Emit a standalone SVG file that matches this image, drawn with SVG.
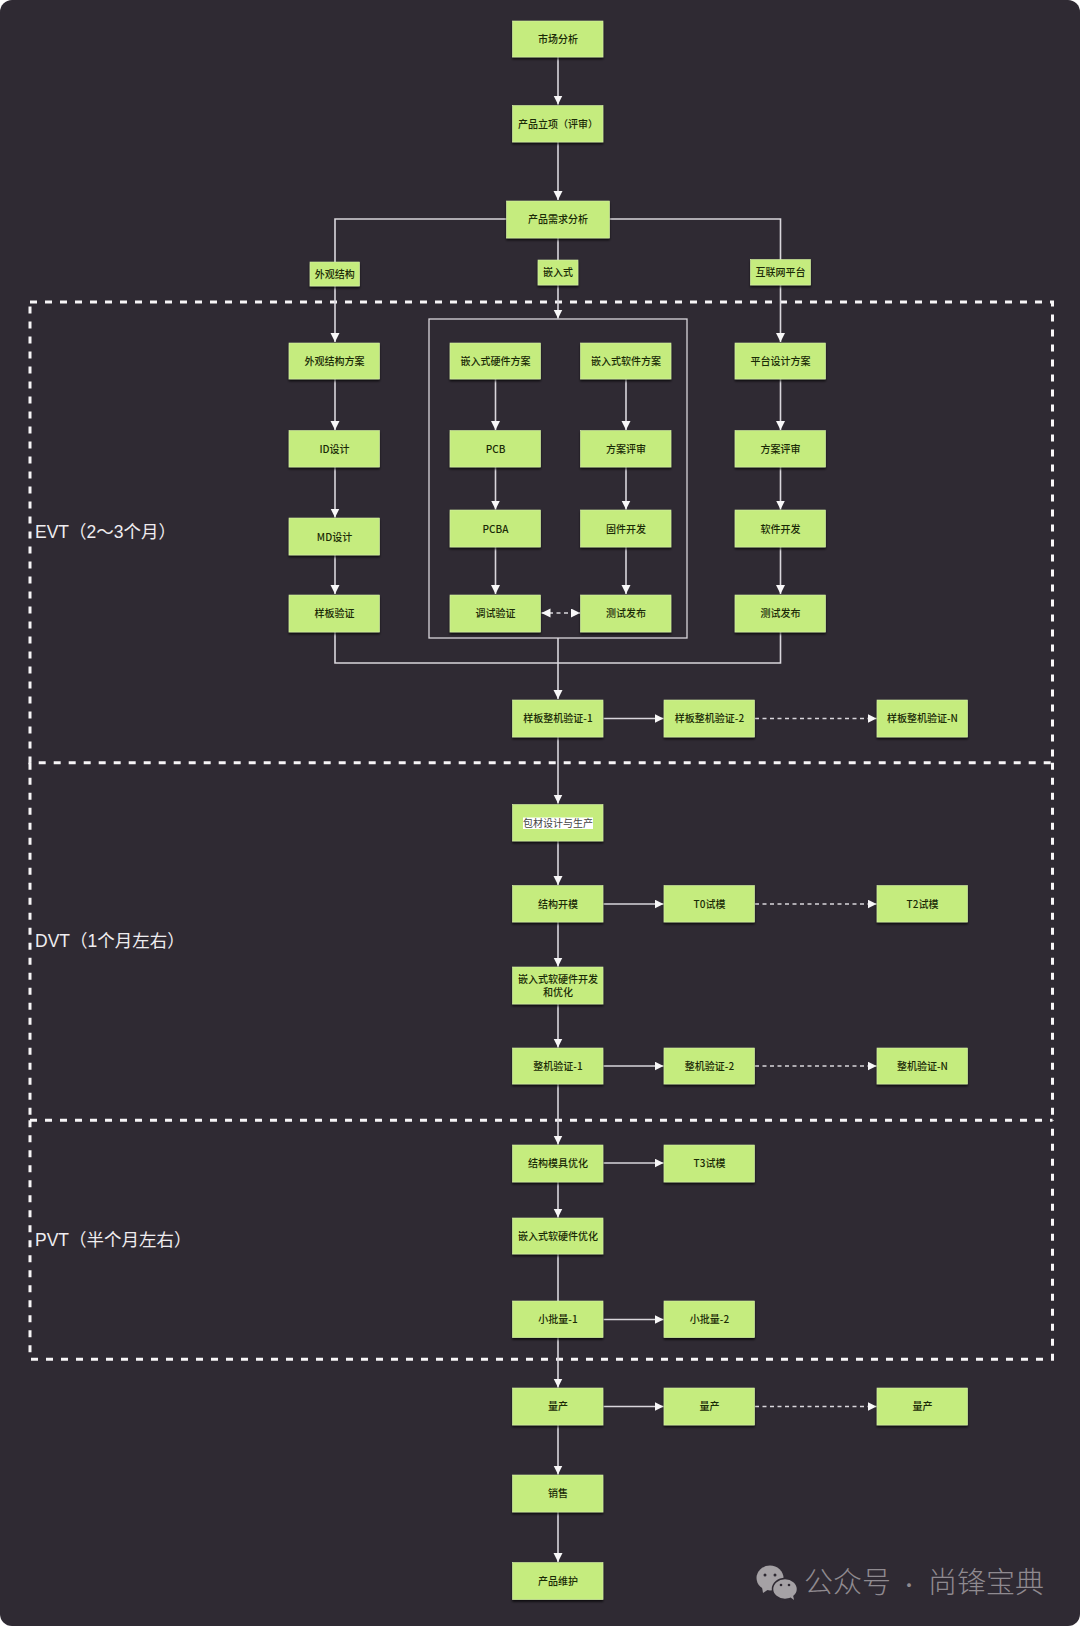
<svg xmlns="http://www.w3.org/2000/svg" width="1080" height="1626" viewBox="0 0 1080 1626">
<style>
.n rect{fill:#c5ec7e;stroke:#d8f2a8;stroke-width:.6;filter:url(#sh)}
.n text{font:500 10px "Noto Sans CJK SC","Liberation Sans",sans-serif;fill:#1a2a06;text-anchor:middle;dominant-baseline:central;transform:translateY(-.7px)}
.c path{fill:none;stroke:#d9d6dc;stroke-width:1.6}
.a{marker-end:url(#ah)}
.d{stroke-dasharray:4 3.5}
.b{fill:none;stroke:#f7f5f7;stroke-width:3;stroke-dasharray:7 8}
.p{font:17.5px "Liberation Sans","Noto Sans CJK SC",sans-serif;fill:#efedf0}
.w{font:300 29px "Noto Sans CJK SC",sans-serif;fill:#8f8a90}
</style>
<defs>
<filter id="sh" x="-10%" y="-10%" width="120%" height="130%"><feDropShadow dx="0" dy="2" stdDeviation="1.300" flood-color="#000" flood-opacity=".7"/></filter>
<marker id="ah" markerUnits="userSpaceOnUse" markerWidth="10" markerHeight="10" refX="9" refY="4.500" orient="auto-start-reverse"><path d="M0 0L9 4.500L0 9Z" fill="#f8f7f8"/></marker>
</defs>
<rect width="1080" height="1626" fill="#ffffff"/>
<rect width="1080" height="1626" rx="12" fill="#2f2a33"/>
<g id="phases">
<path class="b" d="M30 302H1052.500V762.700H30Z"/>
<path class="b" d="M30 762.700V1120.300M1052.500 762.700V1120.300M30 1120.300H1052.500"/>
<path class="b" d="M30 1120.300V1359.300H1052.500V1120.300"/>
<text class="p" x="35" y="538">EVT（2～3个月）</text>
<text class="p" x="35" y="947">DVT（1个月左右）</text>
<text class="p" x="35" y="1246">PVT（半个月左右）</text>
<rect x="429" y="319" width="258" height="319" fill="none" stroke="#d9d6dc" stroke-width="1.300"/>
</g>
<g id="connectors" class="c">
<path class="a" d="M558 57V104.500"/>
<path class="a" d="M558 142V200"/>
<path class="a" d="M506.500 219H335V342"/>
<path class="a" d="M558 238V318.500"/>
<path class="a" d="M609.500 219H780.500V342"/>
<path class="a" d="M335 379V430"/>
<path class="a" d="M335 467V517.500"/>
<path class="a" d="M335 555V594"/>
<path class="a" d="M495.500 379V430"/>
<path class="a" d="M495.500 467V509.500"/>
<path class="a" d="M495.500 547V594"/>
<path class="a" d="M626 379V430"/>
<path class="a" d="M626 467V509.500"/>
<path class="a" d="M626 547V594"/>
<path class="a" d="M780.500 379V430"/>
<path class="a" d="M780.500 467V509.500"/>
<path class="a" d="M780.500 547V594"/>
<path class="a d" marker-start="url(#ah)" d="M541.500 613H580"/>
<path d="M335 632V663H780.500V632"/>
<path class="a" d="M558 638V699"/>
<path class="a" d="M603.500 718.500H663.500"/>
<path class="a d" d="M755 718.500H876.500"/>
<path class="a" d="M558 737V803.500"/>
<path class="a" d="M558 841V885"/>
<path class="a" d="M603.500 904H663.500"/>
<path class="a d" d="M755 904H876.500"/>
<path class="a" d="M558 922V966.500"/>
<path class="a" d="M558 1004V1047.500"/>
<path class="a" d="M603.500 1066H663.500"/>
<path class="a d" d="M755 1066H876.500"/>
<path class="a" d="M558 1084V1144.500"/>
<path class="a" d="M603.500 1163H663.500"/>
<path class="a" d="M558 1182V1217.500"/>
<path d="M558 1254V1301"/>
<path class="a" d="M603.500 1319.500H663.500"/>
<path class="a" d="M558 1337V1387.500"/>
<path class="a" d="M603.500 1406.500H663.500"/>
<path class="a d" d="M755 1406.500H876.500"/>
<path class="a" d="M558 1425V1474.500"/>
<path class="a" d="M558 1512V1562"/>
</g>
<g id="n1" class="n"><rect x="512.500" y="21" width="90.500" height="36"/><text x="558" y="39">市场分析</text></g>
<g id="n2" class="n"><rect x="512.500" y="105.500" width="90.500" height="36.500"/><text x="558" y="124">产品立项（评审）</text></g>
<g id="n3" class="n"><rect x="506.500" y="201" width="103" height="37"/><text x="558" y="219">产品需求分析</text></g>
<g id="l1" class="n"><rect x="310" y="262" width="49.500" height="24"/><text x="334.700" y="274">外观结构</text></g>
<g id="l2" class="n"><rect x="538" y="260" width="40" height="25"/><text x="558" y="272.500">嵌入式</text></g>
<g id="l3" class="n"><rect x="750.500" y="259.500" width="60" height="25.500"/><text x="780.500" y="272.500">互联网平台</text></g>
<g id="n4" class="n"><rect x="289" y="343" width="90.500" height="36"/><text x="334.500" y="361">外观结构方案</text></g>
<g id="n5" class="n"><rect x="289" y="430.500" width="90.500" height="36.500"/><text x="334.500" y="449">ID设计</text></g>
<g id="n6" class="n"><rect x="289" y="518" width="90.500" height="37"/><text x="334.500" y="537">MD设计</text></g>
<g id="n7" class="n"><rect x="289" y="595" width="90.500" height="37"/><text x="334.500" y="613.500">样板验证</text></g>
<g id="n8" class="n"><rect x="450" y="343" width="90.500" height="36"/><text x="495.500" y="361">嵌入式硬件方案</text></g>
<g id="n9" class="n"><rect x="450" y="430.500" width="90.500" height="36.500"/><text x="495.500" y="449">PCB</text></g>
<g id="n10" class="n"><rect x="450" y="510" width="90.500" height="37"/><text x="495.500" y="529">PCBA</text></g>
<g id="n11" class="n"><rect x="450" y="595" width="90.500" height="37"/><text x="495.500" y="613.500">调试验证</text></g>
<g id="n12" class="n"><rect x="580.500" y="343" width="90.500" height="36"/><text x="626" y="361">嵌入式软件方案</text></g>
<g id="n13" class="n"><rect x="580.500" y="430.500" width="90.500" height="36.500"/><text x="626" y="449">方案评审</text></g>
<g id="n14" class="n"><rect x="580.500" y="510" width="90.500" height="37"/><text x="626" y="529">固件开发</text></g>
<g id="n15" class="n"><rect x="580.500" y="595" width="90.500" height="37"/><text x="626" y="613.500">测试发布</text></g>
<g id="n16" class="n"><rect x="735" y="343" width="90.500" height="36"/><text x="780.500" y="361">平台设计方案</text></g>
<g id="n17" class="n"><rect x="735" y="430.500" width="90.500" height="36.500"/><text x="780.500" y="449">方案评审</text></g>
<g id="n18" class="n"><rect x="735" y="510" width="90.500" height="37"/><text x="780.500" y="529">软件开发</text></g>
<g id="n19" class="n"><rect x="735" y="595" width="90.500" height="37"/><text x="780.500" y="613.500">测试发布</text></g>
<g id="n20" class="n"><rect x="512.500" y="700" width="90.500" height="37"/><text x="558" y="718.500">样板整机验证-1</text></g>
<g id="n21" class="n"><rect x="664" y="700" width="90.500" height="37"/><text x="709.500" y="718.500">样板整机验证-2</text></g>
<g id="n22" class="n"><rect x="877" y="700" width="90.500" height="37"/><text x="922.500" y="718.500">样板整机验证-N</text></g>
<g id="n23" class="n"><rect x="512.500" y="804.500" width="90.500" height="36.500"/><rect x="523" y="817.500" width="70" height="11.500" style="fill:#fff;stroke:none;filter:none"/><text x="558" y="823" style="fill:#444;font-weight:400">包材设计与生产</text></g>
<g id="n24" class="n"><rect x="512.500" y="885.500" width="90.500" height="36.500"/><text x="558" y="904">结构开模</text></g>
<g id="n25" class="n"><rect x="664" y="885.500" width="90.500" height="36.500"/><text x="709.500" y="904">T0试模</text></g>
<g id="n26" class="n"><rect x="877" y="885.500" width="90.500" height="36.500"/><text x="922.500" y="904">T2试模</text></g>
<g id="n27" class="n"><rect x="512.500" y="967" width="90.500" height="37"/><text x="558" y="979">嵌入式软硬件开发</text><text x="558" y="992.500">和优化</text></g>
<g id="n28" class="n"><rect x="512.500" y="1048" width="90.500" height="36"/><text x="558" y="1066">整机验证-1</text></g>
<g id="n29" class="n"><rect x="664" y="1048" width="90.500" height="36"/><text x="709.500" y="1066">整机验证-2</text></g>
<g id="n30" class="n"><rect x="877" y="1048" width="90.500" height="36"/><text x="922.500" y="1066">整机验证-N</text></g>
<g id="n31" class="n"><rect x="512.500" y="1145" width="90.500" height="37"/><text x="558" y="1163">结构模具优化</text></g>
<g id="n32" class="n"><rect x="664" y="1145" width="90.500" height="37"/><text x="709.500" y="1163">T3试模</text></g>
<g id="n33" class="n"><rect x="512.500" y="1218" width="90.500" height="36"/><text x="558" y="1236.500">嵌入式软硬件优化</text></g>
<g id="n34" class="n"><rect x="512.500" y="1301" width="90.500" height="36.500"/><text x="558" y="1319.500">小批量-1</text></g>
<g id="n35" class="n"><rect x="664" y="1301" width="90.500" height="36.500"/><text x="709.500" y="1319.500">小批量-2</text></g>
<g id="n36" class="n"><rect x="512.500" y="1388" width="90.500" height="37"/><text x="558" y="1406.500">量产</text></g>
<g id="n37" class="n"><rect x="664" y="1388" width="90.500" height="37"/><text x="709.500" y="1406.500">量产</text></g>
<g id="n38" class="n"><rect x="877" y="1388" width="90.500" height="37"/><text x="922.500" y="1406.500">量产</text></g>
<g id="n39" class="n"><rect x="512.500" y="1475" width="90.500" height="37"/><text x="558" y="1493.500">销售</text></g>
<g id="n40" class="n"><rect x="512.500" y="1562.500" width="90.500" height="37"/><text x="558" y="1581">产品维护</text></g>
<g id="watermark">
<ellipse cx="770" cy="1578" rx="13.500" ry="12.500" fill="#a5a1a5"/>
<path d="M762 1587l1 6l6-4Z" fill="#a5a1a5"/>
<ellipse cx="785" cy="1589" rx="12.500" ry="10.500" fill="#a5a1a5" stroke="#2f2a33" stroke-width="1.500"/>
<path d="M790 1597l4 3l-1-5Z" fill="#a5a1a5"/>
<circle cx="765" cy="1575" r="1.500" fill="#2f2a33"/><circle cx="775" cy="1575" r="1.500" fill="#2f2a33"/>
<circle cx="781" cy="1585" r="1.300" fill="#2f2a33"/><circle cx="789" cy="1585" r="1.300" fill="#2f2a33"/>
<text class="w" y="1593"><tspan x="804">公众号</tspan><tspan x="899" style="font-size:20px">·</tspan><tspan x="928">尚锋宝典</tspan></text>
</g>
</svg>
